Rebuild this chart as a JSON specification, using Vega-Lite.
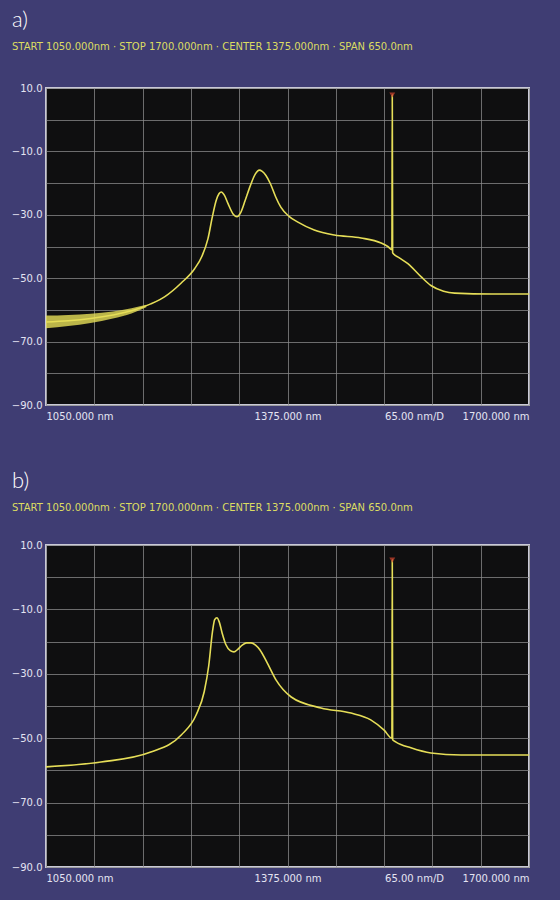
{
  "$schema": "https://vega.github.io/schema/vega-lite/v6.json",
  "background": "#3f3d73",
  "padding": {"left": 5, "top": 8, "right": 30, "bottom": 14},
  "spacing": 43,
  "config": {
    "view": {"fill": "#0f0f10", "stroke": "#c9c9d6", "strokeWidth": 2},
    "font": "DejaVu Sans",
    "axis": {
      "domain": false,
      "ticks": false,
      "grid": true,
      "gridColor": "#8c8c8c",
      "gridOpacity": 0.75,
      "gridWidth": 1,
      "labelColor": "#e4e4f2",
      "labelFontSize": 10,
      "title": null
    },
    "title": {
      "anchor": "start",
      "frame": "bounds",
      "color": "#ffffff",
      "fontSize": 22,
      "fontWeight": 300,
      "font": "Lato",
      "subtitleColor": "#dcdc62",
      "subtitleFontSize": 10,
      "subtitlePadding": 10,
      "offset": 26,
      "dx": 6
    }
  },
  "datasets": {
    "noise_a": [
      {"wavelength_nm": 1050, "low_dbm": -65.8, "high_dbm": -61.8},
      {"wavelength_nm": 1080, "low_dbm": -65.1, "high_dbm": -61.6},
      {"wavelength_nm": 1110, "low_dbm": -64.1, "high_dbm": -61.2},
      {"wavelength_nm": 1140, "low_dbm": -62.7, "high_dbm": -60.5},
      {"wavelength_nm": 1165, "low_dbm": -61.1, "high_dbm": -59.5},
      {"wavelength_nm": 1185, "low_dbm": -59.2, "high_dbm": -58.4}
    ],
    "trace_a": [
      {"wavelength_nm": 1050, "level_dbm": -63.8},
      {"wavelength_nm": 1080, "level_dbm": -63.4},
      {"wavelength_nm": 1110, "level_dbm": -62.7},
      {"wavelength_nm": 1140, "level_dbm": -61.6},
      {"wavelength_nm": 1165, "level_dbm": -60.3},
      {"wavelength_nm": 1191, "level_dbm": -58.1},
      {"wavelength_nm": 1210, "level_dbm": -55.8},
      {"wavelength_nm": 1232, "level_dbm": -51.5},
      {"wavelength_nm": 1250, "level_dbm": -47.0},
      {"wavelength_nm": 1260, "level_dbm": -43.0},
      {"wavelength_nm": 1268, "level_dbm": -37.5},
      {"wavelength_nm": 1274, "level_dbm": -30.5},
      {"wavelength_nm": 1279, "level_dbm": -25.5},
      {"wavelength_nm": 1283, "level_dbm": -23.3},
      {"wavelength_nm": 1286, "level_dbm": -22.8},
      {"wavelength_nm": 1290, "level_dbm": -23.8},
      {"wavelength_nm": 1295, "level_dbm": -26.5},
      {"wavelength_nm": 1302, "level_dbm": -29.8},
      {"wavelength_nm": 1307, "level_dbm": -30.6},
      {"wavelength_nm": 1312, "level_dbm": -29.3},
      {"wavelength_nm": 1318, "level_dbm": -25.5},
      {"wavelength_nm": 1325, "level_dbm": -20.8},
      {"wavelength_nm": 1332, "level_dbm": -17.0},
      {"wavelength_nm": 1337, "level_dbm": -15.9},
      {"wavelength_nm": 1341, "level_dbm": -16.3},
      {"wavelength_nm": 1346, "level_dbm": -17.6},
      {"wavelength_nm": 1352, "level_dbm": -20.2},
      {"wavelength_nm": 1359, "level_dbm": -24.3},
      {"wavelength_nm": 1366, "level_dbm": -27.6},
      {"wavelength_nm": 1377, "level_dbm": -30.5},
      {"wavelength_nm": 1389, "level_dbm": -32.3},
      {"wavelength_nm": 1411, "level_dbm": -34.8},
      {"wavelength_nm": 1438, "level_dbm": -36.4},
      {"wavelength_nm": 1474, "level_dbm": -37.3},
      {"wavelength_nm": 1501, "level_dbm": -38.9},
      {"wavelength_nm": 1510, "level_dbm": -40.0},
      {"wavelength_nm": 1515.5, "level_dbm": -41.0},
      {"wavelength_nm": 1516, "level_dbm": 7.8},
      {"wavelength_nm": 1516.5, "level_dbm": -42.0},
      {"wavelength_nm": 1525, "level_dbm": -43.5},
      {"wavelength_nm": 1537, "level_dbm": -45.4},
      {"wavelength_nm": 1555, "level_dbm": -49.6},
      {"wavelength_nm": 1568, "level_dbm": -52.3},
      {"wavelength_nm": 1585, "level_dbm": -54.1},
      {"wavelength_nm": 1600, "level_dbm": -54.7},
      {"wavelength_nm": 1650, "level_dbm": -55.0},
      {"wavelength_nm": 1700, "level_dbm": -55.0}
    ],
    "trace_b": [
      {"wavelength_nm": 1050, "level_dbm": -58.9},
      {"wavelength_nm": 1124, "level_dbm": -57.4},
      {"wavelength_nm": 1191, "level_dbm": -54.3},
      {"wavelength_nm": 1232, "level_dbm": -49.0},
      {"wavelength_nm": 1252, "level_dbm": -42.8},
      {"wavelength_nm": 1263, "level_dbm": -35.5},
      {"wavelength_nm": 1269, "level_dbm": -27.5},
      {"wavelength_nm": 1274, "level_dbm": -17.0},
      {"wavelength_nm": 1277, "level_dbm": -13.2},
      {"wavelength_nm": 1280, "level_dbm": -12.6},
      {"wavelength_nm": 1283, "level_dbm": -13.8},
      {"wavelength_nm": 1287, "level_dbm": -17.3},
      {"wavelength_nm": 1292, "level_dbm": -20.9},
      {"wavelength_nm": 1298, "level_dbm": -22.8},
      {"wavelength_nm": 1303, "level_dbm": -23.2},
      {"wavelength_nm": 1308, "level_dbm": -22.4},
      {"wavelength_nm": 1314, "level_dbm": -21.1},
      {"wavelength_nm": 1320, "level_dbm": -20.4},
      {"wavelength_nm": 1326, "level_dbm": -20.4},
      {"wavelength_nm": 1332, "level_dbm": -21.1},
      {"wavelength_nm": 1338, "level_dbm": -22.6},
      {"wavelength_nm": 1347, "level_dbm": -26.3},
      {"wavelength_nm": 1359.5, "level_dbm": -31.9},
      {"wavelength_nm": 1380, "level_dbm": -37.2},
      {"wavelength_nm": 1420, "level_dbm": -40.6},
      {"wavelength_nm": 1460.5, "level_dbm": -42.2},
      {"wavelength_nm": 1487, "level_dbm": -44.3},
      {"wavelength_nm": 1505, "level_dbm": -47.5},
      {"wavelength_nm": 1515.5, "level_dbm": -50.0},
      {"wavelength_nm": 1516, "level_dbm": 5.3},
      {"wavelength_nm": 1516.5, "level_dbm": -50.5},
      {"wavelength_nm": 1521, "level_dbm": -51.2},
      {"wavelength_nm": 1541, "level_dbm": -53.0},
      {"wavelength_nm": 1568, "level_dbm": -54.6},
      {"wavelength_nm": 1608.5, "level_dbm": -55.2},
      {"wavelength_nm": 1700, "level_dbm": -55.2}
    ],
    "marker_a": [{"wavelength_nm": 1516, "level_dbm": 7.8}],
    "marker_b": [{"wavelength_nm": 1516, "level_dbm": 5.3}]
  },
  "vconcat": [
    {
      "width": 483,
      "height": 317,
      "title": {"text": "a)", "subtitle": "START 1050.000nm  ·  STOP 1700.000nm  ·  CENTER 1375.000nm  ·  SPAN 650.0nm", "offset": 30},
      "encoding": {
        "x": {
          "field": "wavelength_nm",
          "type": "quantitative",
          "scale": {"domain": [1050, 1700], "nice": false, "zero": false},
          "axis": {
            "values": [1050, 1115, 1180, 1245, 1310, 1375, 1440, 1505, 1570, 1635, 1700],
            "labelExpr": "datum.value == 1050 || datum.value == 1375 || datum.value == 1700 ? format(datum.value, '.3f') + ' nm' : ''",
            "labelAlign": {"expr": "datum.value == 1050 ? 'left' : datum.value == 1700 ? 'right' : 'center'"},
            "labelPadding": 6,
            "title": "65.00 nm/D",
            "titleColor": "#e4e4f2",
            "titleFontSize": 10,
            "titleFontWeight": "normal",
            "titleX": 368,
            "titleY": 6,
            "titleBaseline": "top",
            "titleAlign": "center",
            "minExtent": 20,
            "maxExtent": 20
          }
        },
        "y": {
          "field": "level_dbm",
          "type": "quantitative",
          "scale": {"domain": [-90, 10], "nice": false, "zero": false},
          "axis": {
            "values": [10, 0, -10, -20, -30, -40, -50, -60, -70, -80, -90],
            "labelExpr": "abs(datum.value % 20) == 10 ? format(datum.value, '.1f') : ''",
            "labelPadding": 4,
            "minExtent": 40,
            "maxExtent": 40
          }
        }
      },
      "layer": [
        {"data": {"name": "noise_a"}, "mark": {"type": "area", "color": "#e6de58", "opacity": 0.8, "interpolate": "monotone", "clip": true},
         "encoding": {"y": {"field": "low_dbm", "type": "quantitative"}, "y2": {"field": "high_dbm"}}},
        {"data": {"name": "trace_a"}, "mark": {"type": "line", "color": "#e6de58", "strokeWidth": 1.6, "interpolate": "monotone", "clip": true}},
        {"data": {"name": "marker_a"}, "mark": {"type": "point", "shape": "triangle-down", "filled": true, "color": "#d2452f", "size": 35}}
      ]
    },
    {
      "width": 483,
      "height": 322,
      "title": {"text": "b)", "subtitle": "START 1050.000nm  ·  STOP 1700.000nm  ·  CENTER 1375.000nm  ·  SPAN 650.0nm", "offset": 26},
      "encoding": {
        "x": {
          "field": "wavelength_nm",
          "type": "quantitative",
          "scale": {"domain": [1050, 1700], "nice": false, "zero": false},
          "axis": {
            "values": [1050, 1115, 1180, 1245, 1310, 1375, 1440, 1505, 1570, 1635, 1700],
            "labelExpr": "datum.value == 1050 || datum.value == 1375 || datum.value == 1700 ? format(datum.value, '.3f') + ' nm' : ''",
            "labelAlign": {"expr": "datum.value == 1050 ? 'left' : datum.value == 1700 ? 'right' : 'center'"},
            "labelPadding": 6,
            "title": "65.00 nm/D",
            "titleColor": "#e4e4f2",
            "titleFontSize": 10,
            "titleFontWeight": "normal",
            "titleX": 368,
            "titleY": 6,
            "titleBaseline": "top",
            "titleAlign": "center",
            "minExtent": 20,
            "maxExtent": 20
          }
        },
        "y": {
          "field": "level_dbm",
          "type": "quantitative",
          "scale": {"domain": [-90, 10], "nice": false, "zero": false},
          "axis": {
            "values": [10, 0, -10, -20, -30, -40, -50, -60, -70, -80, -90],
            "labelExpr": "abs(datum.value % 20) == 10 ? format(datum.value, '.1f') : ''",
            "labelPadding": 4,
            "minExtent": 40,
            "maxExtent": 40
          }
        }
      },
      "layer": [
        {"data": {"name": "trace_b"}, "mark": {"type": "line", "color": "#e6de58", "strokeWidth": 1.6, "interpolate": "monotone", "clip": true}},
        {"data": {"name": "marker_b"}, "mark": {"type": "point", "shape": "triangle-down", "filled": true, "color": "#d2452f", "size": 35}}
      ]
    }
  ]
}
